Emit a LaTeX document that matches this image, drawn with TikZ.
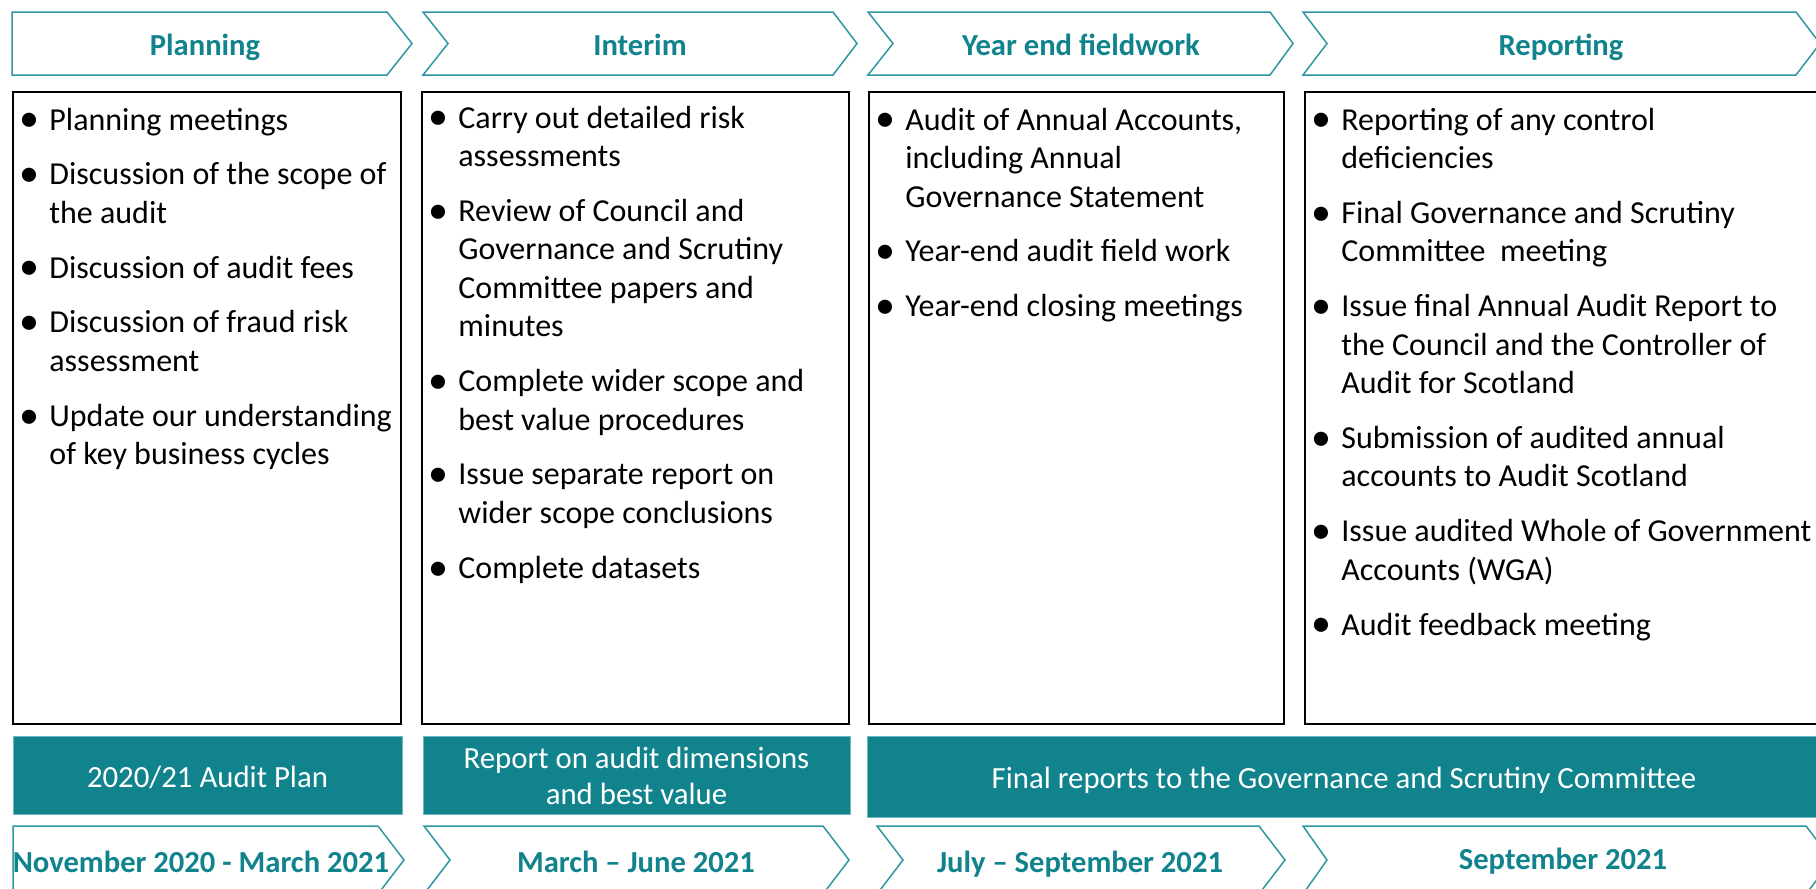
\documentclass[tikz,border=0pt]{standalone}
\usepackage{fontspec}
\setmainfont{Carlito}
\definecolor{tealc}{RGB}{16,131,141}
\definecolor{chev}{RGB}{45,152,163}
\newcommand\bu{\makebox[15pt][l]{\raisebox{-0.9pt}{\scalebox{1.25}{\textbullet}}}}
\newcommand\gp{\\[8.15pt]}
\begin{document}
\begin{tikzpicture}[x=0.5pt,y=-0.5pt,
  chevron/.style={draw=chev, line width=0.75pt, fill=white, line join=miter},
  cbox/.style={draw=black, line width=1pt},
  tbox/.style={fill=tealc, draw=chev!70, line width=0.3pt},
  head/.style={font=\fontsize{15.3pt}{18pt}\selectfont\bfseries, text=tealc, inner sep=0pt, anchor=base},
  bar/.style={font=\fontsize{15.4pt}{18pt}\selectfont, text=white, inner sep=0pt, align=center},
  list/.style={font=\fontsize{16pt}{19.25pt}\selectfont, inner sep=0pt, anchor=base west}]
\useasboundingbox (0,0) rectangle (1816,889);
\fill[white] (0,0) rectangle (1816,889);
\begin{scope}
\clip (0,0) rectangle (1816,889);
% top chevrons
\draw[chevron] (12,12) -- (387,12) -- (412,43.5) -- (387,75) -- (12,75) -- cycle;
\draw[chevron] (423,12) -- (833,12) -- (857,43.5) -- (833,75) -- (423,75) -- (448,43.5) -- cycle;
\draw[chevron] (868,12) -- (1270,12) -- (1293,43.5) -- (1270,75) -- (868,75) -- (893,43.5) -- cycle;
\draw[chevron] (1303,12) -- (1796,12) -- (1820,43.5) -- (1796,75) -- (1303,75) -- (1327,43.5) -- cycle;
\node[head] (h1) at (205,55.5) {Planning};
\node[head] (h2) at (640,55.5) {Interim};
\node[head] (h3) at (1081,55.5) {Year end fieldwork};
\node[head] (h4) at (1561,55.5) {Reporting};
% content boxes
\draw[cbox] (13,92) rectangle (401,724);
\draw[cbox] (422,92) rectangle (849,724);
\draw[cbox] (869,92) rectangle (1284,724);
\draw[cbox] (1305,92) rectangle (1830,724);
\node[list] (l1) at (19,130) {\begin{tabular}[t]{@{}l@{}l@{}}
\bu & Planning meetings\gp
\bu & Discussion of the scope of\\
 & the audit\gp
\bu & Discussion of audit fees\gp
\bu & Discussion of fraud risk\\
 & assessment\gp
\bu & Update our understanding\\
 & of key business cycles
\end{tabular}};
\node[list] (l2) at (428,128) {\begin{tabular}[t]{@{}l@{}l@{}}
\bu & Carry out detailed risk\\
 & assessments\gp
\bu & Review of Council and\\
 & Governance and Scrutiny\\
 & Committee papers and\\
 & minutes\gp
\bu & Complete wider scope and\\
 & best value procedures\gp
\bu & Issue separate report on\\
 & wider scope conclusions\gp
\bu & Complete datasets
\end{tabular}};
\node[list] (l3) at (875,130) {\begin{tabular}[t]{@{}l@{}l@{}}
\bu & Audit of Annual Accounts,\\
 & including Annual\\
 & Governance Statement\gp
\bu & Year-end audit field work\gp
\bu & Year-end closing meetings
\end{tabular}};
\node[list] (l4) at (1311,130) {\begin{tabular}[t]{@{}l@{}l@{}}
\bu & Reporting of any control\\
 & deficiencies\gp
\bu & Final Governance and Scrutiny\\
 & Committee \ meeting\gp
\bu & Issue final Annual Audit Report to\\
 & the Council and the Controller of\\
 & Audit for Scotland\gp
\bu & Submission of audited annual\\
 & accounts to Audit Scotland\gp
\bu & Issue audited Whole of Government\\
 & Accounts (WGA)\gp
\bu & Audit feedback meeting
\end{tabular}};
% teal bars
\draw[tbox] (13,736) rectangle (402,814);
\draw[tbox] (423,736) rectangle (850,814);
\draw[tbox] (867,736) rectangle (1830,817);
\node[bar, anchor=base] (t1) at (207.5,787) {2020/21 Audit Plan};
\node[bar, anchor=center] (t2) at (636.5,776) {Report on audit dimensions\\and best value};
\node[bar, anchor=base] (t3) at (1344,788) {Final reports to the Governance and Scrutiny Committee};
% bottom chevrons
\draw[chevron] (13,826) -- (378,826) -- (404,860) -- (378,894) -- (13,894) -- cycle;
\draw[chevron] (424,826) -- (823,826) -- (849,860) -- (823,894) -- (424,894) -- (450,860) -- cycle;
\draw[chevron] (877,826) -- (1259,826) -- (1285,860) -- (1259,894) -- (877,894) -- (903,860) -- cycle;
\draw[chevron] (1303,826) -- (1806,826) -- (1832,860) -- (1806,894) -- (1303,894) -- (1327,860) -- cycle;
\node[head] (d1) at (201,872) {November 2020 - March 2021};
\node[head] (d2) at (636,872) {March – June 2021};
\node[head] (d3) at (1080,872) {July – September 2021};
\node[head] (d4) at (1563,869) {September 2021};
\end{scope}
\end{tikzpicture}
\end{document}
